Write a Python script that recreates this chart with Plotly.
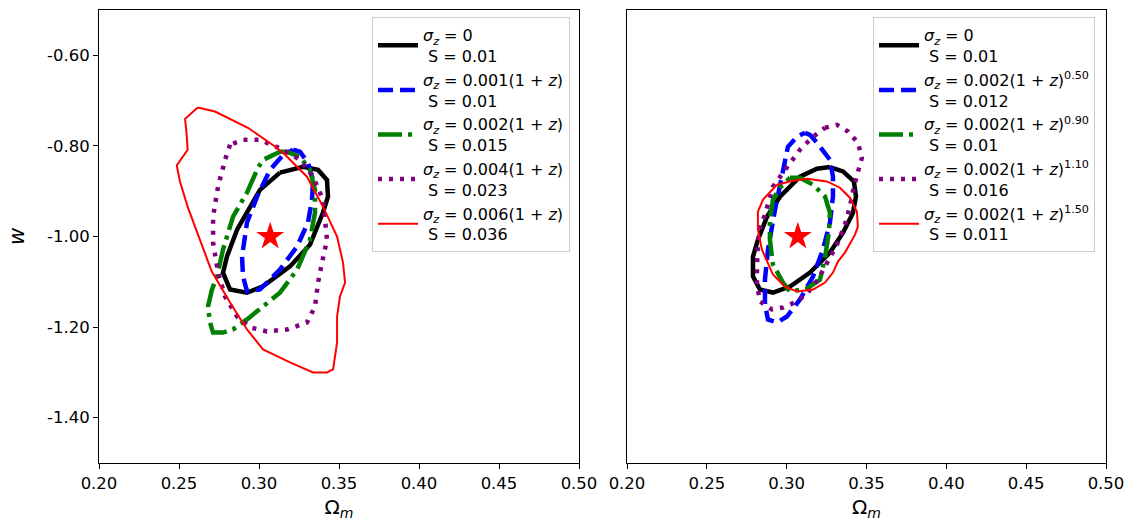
import plotly.graph_objects as go

# ---------------- data ----------------
x_ticks = [0.20, 0.25, 0.30, 0.35, 0.40, 0.45, 0.50]
x_tick_text = ["0.20", "0.25", "0.30", "0.35", "0.40", "0.45", "0.50"]
y_ticks = [-0.6, -0.8, -1.0, -1.2, -1.4]
y_tick_text = ["-0.60", "-0.80", "-1.00", "-1.20", "-1.40"]

fiducial_om = [0.307]
fiducial_w = [-1.0]

# Left panel
L_black_x = [0.3131, 0.3006, 0.2863, 0.2800, 0.2775, 0.2819, 0.2925, 0.3025, 0.3194, 0.3319, 0.3400, 0.3431, 0.3425, 0.3369, 0.3275]
L_black_y = [-0.859, -0.897, -0.985, -1.044, -1.080, -1.117, -1.124, -1.110, -1.066, -1.018, -0.947, -0.912, -0.875, -0.853, -0.846]

L_blue_x = [0.3213, 0.3256, 0.3306, 0.3338, 0.3331, 0.3306, 0.3238, 0.3131, 0.3006, 0.2925, 0.2900, 0.2894, 0.2925, 0.2988, 0.3069, 0.3150]
L_blue_y = [-0.8085, -0.813, -0.837, -0.875, -0.919, -0.969, -1.022, -1.073, -1.117, -1.121, -1.088, -1.044, -0.969, -0.912, -0.853, -0.820]

L_green_x = [0.3175, 0.3131, 0.3025, 0.2994, 0.2925, 0.2838, 0.2775, 0.2738, 0.2706, 0.2681, 0.2694, 0.2713, 0.2775, 0.2838, 0.2925, 0.3006, 0.3131, 0.3238, 0.3319, 0.3350, 0.3350, 0.3319, 0.3256]
L_green_y = [-0.813, -0.813, -0.831, -0.848, -0.903, -0.956, -1.029, -1.088, -1.117, -1.155, -1.190, -1.212, -1.212, -1.205, -1.183, -1.161, -1.124, -1.073, -1.007, -0.947, -0.897, -0.853, -0.824]

L_purple_x = [0.2819, 0.2788, 0.2744, 0.2713, 0.2713, 0.2744, 0.2788, 0.2863, 0.2944, 0.3050, 0.3175, 0.3300, 0.3350, 0.3369, 0.3394, 0.3425, 0.3400, 0.3338, 0.3256, 0.3150, 0.3006, 0.2900]
L_purple_y = [-0.7975, -0.8306, -0.890, -0.956, -1.0135, -1.0796, -1.1325, -1.1766, -1.2008, -1.2096, -1.2052, -1.1898, -1.1545, -1.1017, -1.0576, -1.0069, -0.9187, -0.868, -0.8306, -0.8085, -0.7865, -0.7865]

L_red_x = [0.2617, 0.2538, 0.2548, 0.2554, 0.2486, 0.2506, 0.2556, 0.2619, 0.2704, 0.2819, 0.2925, 0.3025, 0.3194, 0.3338, 0.3425, 0.3463, 0.3488, 0.3488, 0.3506, 0.3538, 0.3525, 0.3488, 0.3400, 0.3300, 0.3163, 0.3100, 0.2931, 0.2725]
L_red_y = [-0.7153, -0.7402, -0.7755, -0.8085, -0.8431, -0.8784, -0.9364, -0.9959, -1.0767, -1.1457, -1.2052, -1.2493, -1.278, -1.300, -1.300, -1.2934, -1.2339, -1.1766, -1.1325, -1.1017, -1.0576, -1.0003, -0.9342, -0.868, -0.8196, -0.8013, -0.760, -0.7241]

# Right panel
R_black_x = [0.3271, 0.3353, 0.3421, 0.3434, 0.3415, 0.3353, 0.3271, 0.3146, 0.3021, 0.2914, 0.2833, 0.2789, 0.2789, 0.2820, 0.2877, 0.2958, 0.3083, 0.3190]
R_black_y = [-0.8467, -0.8564, -0.8784, -0.9115, -0.948, -0.9915, -1.0355, -1.0796, -1.1105, -1.1237, -1.1171, -1.0884, -1.0444, -1.0069, -0.9562, -0.9121, -0.868, -0.8504]

R_blue_x = [0.3115, 0.3146, 0.3190, 0.3271, 0.3290, 0.3290, 0.3271, 0.3227, 0.3165, 0.3083, 0.3002, 0.2939, 0.2883, 0.2864, 0.2864, 0.2883, 0.2927, 0.2971, 0.3008, 0.3065]
R_blue_y = [-0.7711, -0.7755, -0.7931, -0.8306, -0.868, -0.9121, -0.9694, -1.0289, -1.0884, -1.1391, -1.1766, -1.1898, -1.1832, -1.150, -1.095, -1.0289, -0.9408, -0.868, -0.8019, -0.7799]

R_green_x = [0.3021, 0.3083, 0.3165, 0.3240, 0.3271, 0.3265, 0.3240, 0.3209, 0.3127, 0.3021, 0.2977, 0.2914, 0.2895, 0.2895, 0.2914, 0.2958]
R_green_y = [-0.8702, -0.8702, -0.8857, -0.9115, -0.9474, -0.9893, -1.0466, -1.095, -1.1149, -1.1215, -1.1017, -1.062, -1.0069, -0.9628, -0.9187, -0.8923]

R_purple_x = [0.3240, 0.3315, 0.3384, 0.3446, 0.3471, 0.3446, 0.3421, 0.3396, 0.3365, 0.3315, 0.3240, 0.3196, 0.3133, 0.3065, 0.2977, 0.2908, 0.2833, 0.2814, 0.2814, 0.2820, 0.2833, 0.2864, 0.2914, 0.3002, 0.3083, 0.3165]
R_purple_y = [-0.760, -0.7534, -0.7682, -0.7931, -0.8262, -0.857, -0.890, -0.9342, -0.9738, -1.0179, -1.0686, -1.095, -1.1237, -1.1435, -1.1567, -1.1611, -1.1435, -1.106, -1.0686, -1.0135, -0.9804, -0.952, -0.890, -0.846, -0.8085, -0.780]

R_red_x = [0.2939, 0.3039, 0.3127, 0.3252, 0.3334, 0.3396, 0.3440, 0.3446, 0.3428, 0.3365, 0.3321, 0.3290, 0.3240, 0.3165, 0.3065, 0.2989, 0.2914, 0.2845, 0.2820, 0.2820, 0.2852]
R_red_y = [-0.8857, -0.8769, -0.8725, -0.8784, -0.8923, -0.9143, -0.9452, -0.9782, -0.9959, -1.0355, -1.0554, -1.0796, -1.1017, -1.1171, -1.1215, -1.1105, -1.084, -1.0289, -0.9848, -0.9452, -0.9187]

L_labels = [
    "<i>σ</i><sub><i>z</i></sub> = 0<br> S = 0.01",
    "<i>σ</i><sub><i>z</i></sub> = 0.001(1 + <i>z</i>)<br> S = 0.01",
    "<i>σ</i><sub><i>z</i></sub> = 0.002(1 + <i>z</i>)<br> S = 0.015",
    "<i>σ</i><sub><i>z</i></sub> = 0.004(1 + <i>z</i>)<br> S = 0.023",
    "<i>σ</i><sub><i>z</i></sub> = 0.006(1 + <i>z</i>)<br> S = 0.036",
]
R_labels = [
    "<i>σ</i><sub><i>z</i></sub> = 0<br> S = 0.01",
    "<i>σ</i><sub><i>z</i></sub> = 0.002(1 + <i>z</i>)<sup>0.50</sup><br> S = 0.012",
    "<i>σ</i><sub><i>z</i></sub> = 0.002(1 + <i>z</i>)<sup>0.90</sup><br> S = 0.01",
    "<i>σ</i><sub><i>z</i></sub> = 0.002(1 + <i>z</i>)<sup>1.10</sup><br> S = 0.016",
    "<i>σ</i><sub><i>z</i></sub> = 0.002(1 + <i>z</i>)<sup>1.50</sup><br> S = 0.011",
]

# ---------------- styles ----------------
styles = [
    dict(color="black", width=4.5, dash="solid"),
    dict(color="blue", width=4.5, dash="15px,7px"),
    dict(color="green", width=4.5, dash="24px,6px,4px,6px"),
    dict(color="purple", width=4.5, dash="4px,7px"),
    dict(color="red", width=2, dash="solid"),
]


def closed(a):
    return list(a) + [a[0]]


fig = go.Figure()

left_sets = [(L_black_x, L_black_y), (L_blue_x, L_blue_y), (L_green_x, L_green_y),
             (L_purple_x, L_purple_y), (L_red_x, L_red_y)]
right_sets = [(R_black_x, R_black_y), (R_blue_x, R_blue_y), (R_green_x, R_green_y),
              (R_purple_x, R_purple_y), (R_red_x, R_red_y)]

for i, (xs, ys) in enumerate(left_sets):
    fig.add_trace(go.Scatter(x=closed(xs), y=closed(ys), mode="lines", line=styles[i],
                             name=L_labels[i], legend="legend", legendgroup=f"L{i}",
                             xaxis="x", yaxis="y"))
fig.add_trace(go.Scatter(x=fiducial_om, y=fiducial_w, mode="markers",
                         marker=dict(symbol="star", color="red", size=21, line=dict(width=0)),
                         showlegend=False, xaxis="x", yaxis="y"))

for i, (xs, ys) in enumerate(right_sets):
    fig.add_trace(go.Scatter(x=closed(xs), y=closed(ys), mode="lines", line=styles[i],
                             name=R_labels[i], legend="legend2", legendgroup=f"R{i}",
                             xaxis="x2", yaxis="y2"))
fig.add_trace(go.Scatter(x=fiducial_om, y=fiducial_w, mode="markers",
                         marker=dict(symbol="star", color="red", size=21, line=dict(width=0)),
                         showlegend=False, xaxis="x2", yaxis="y2"))

W, H = 1137, 532
ydom = [1 - 463 / H, 1 - 10 / H]

axis_common = dict(showline=True, linecolor="black", linewidth=1, mirror=True,
                   showgrid=False, zeroline=False, automargin=False,
                   tickcolor="black", tickfont=dict(family="DejaVu Sans", size=16.5, color="black"))

legend_common = dict(yanchor="top", xanchor="left", y=1 - 17 / H,
                     bgcolor="white", bordercolor="#cccccc", borderwidth=1,
                     font=dict(family="DejaVu Sans", size=16, color="black"),
                     tracegroupgap=0, itemwidth=40)

fig.update_layout(
    width=W, height=H,
    margin=dict(l=0, r=0, t=0, b=0, autoexpand=False),
    paper_bgcolor="white", plot_bgcolor="white",
    font=dict(family="DejaVu Sans", color="black"),
    xaxis=dict(domain=[99 / W, 579 / W], range=[0.2, 0.5], tickvals=x_ticks, ticktext=x_tick_text,
               ticks="outside", ticklen=5,
               title=dict(text="Ω<sub><i>m</i></sub>", font=dict(size=20), standoff=8), anchor="y",
               **axis_common),
    yaxis=dict(domain=ydom, range=[-1.5, -0.5], tickvals=y_ticks, ticktext=y_tick_text,
               ticks="outside", ticklen=5,
               title=dict(text="<i>w</i>", font=dict(size=21), standoff=16), anchor="x",
               **axis_common),
    xaxis2=dict(domain=[627 / W, 1106 / W], range=[0.2, 0.5], tickvals=x_ticks, ticktext=x_tick_text,
                ticks="outside", ticklen=5,
                title=dict(text="Ω<sub><i>m</i></sub>", font=dict(size=20), standoff=8), anchor="y2",
                **axis_common),
    yaxis2=dict(domain=ydom, range=[-1.5, -0.5], showticklabels=False, ticks="", anchor="x2",
                **axis_common),
    legend=dict(x=372 / W, **legend_common),
    legend2=dict(x=873 / W, **legend_common),
)

fig.write_html("out.html", config={"displayModeBar": False},
               post_script="document.body.style.margin='0px';document.body.style.overflow='hidden';")
